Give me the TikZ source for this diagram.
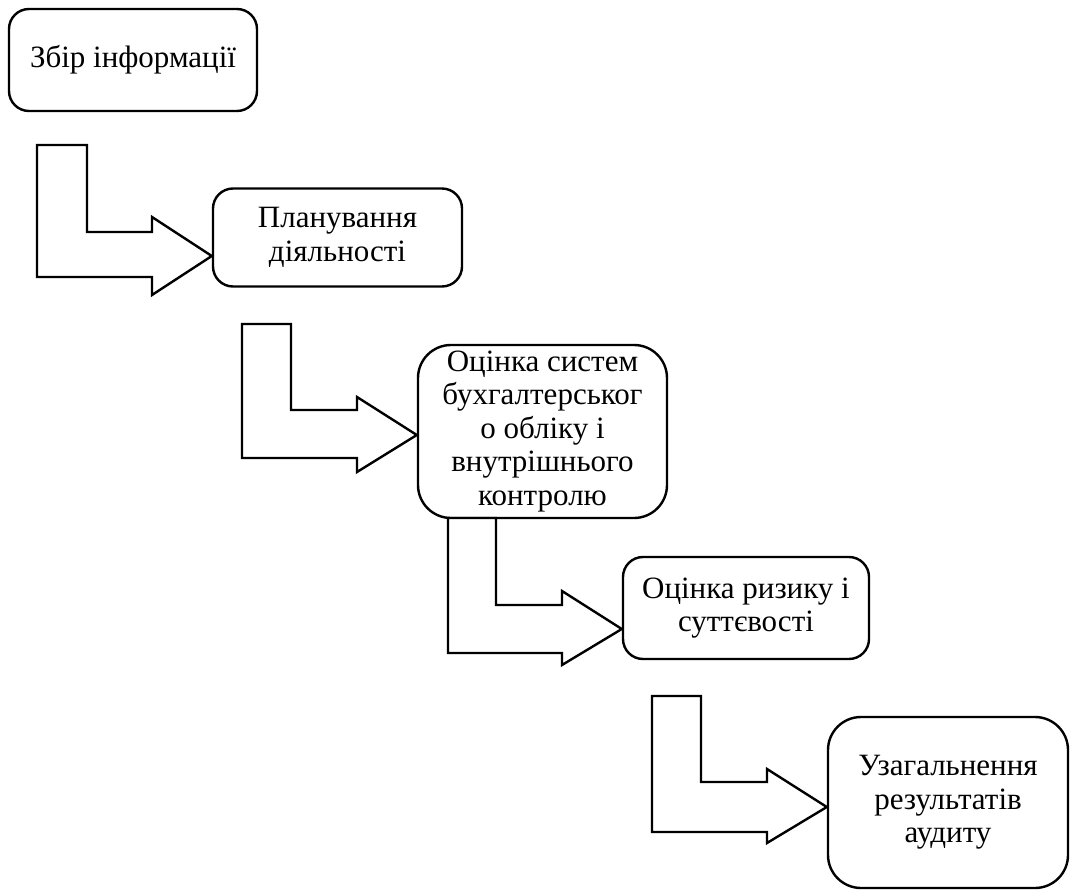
\documentclass[tikz,border=0pt]{standalone}
\usepackage{fontspec}
\setmainfont{Liberation Serif}
\begin{document}
\begin{tikzpicture}[x=1pt,y=-1pt,
  box/.style={draw=black, line width=2.4pt, fill=white, align=center, inner sep=0pt,
    font=\fontsize{31}{33.5}\selectfont},
  bentarrow/.style={draw=black, line width=2.4pt, fill=white, line join=miter}]
\useasboundingbox (0,0) rectangle (1070,890);
% boxes
\node[box, minimum width=248pt, minimum height=102pt, rounded corners=20pt] (b1) at (133,60) {Збір інформації};
\node[box, minimum width=249pt, minimum height=98pt, rounded corners=20pt] (b2) at (337.5,237.5) {Планування\\діяльності};
\node[box, minimum width=249pt, minimum height=173pt, rounded corners=33pt] (b3) at (542.5,431.5) {Оцінка систем\\бухгалтерськог\\о обліку і\\внутрішнього\\контролю};
\node[box, minimum width=246pt, minimum height=102pt, rounded corners=20pt] (b4) at (746,608) {Оцінка ризику і\\суттєвості};
\node[box, minimum width=240pt, minimum height=171pt, rounded corners=33pt] (b5) at (948,802.5) {Узагальнення\\результатів\\аудиту};
% bent arrows
\draw[bentarrow] (37,145) -- (87,145) -- (87,232) -- (152,232) -- (152,217) -- (b2.west |- 0,256) -- (152,295) -- (152,277) -- (37,277) -- cycle;
\draw[bentarrow] (242,324) -- (291,324) -- (291,410) -- (357,410) -- (357,397) -- (b3.west |- 0,435) -- (357,472) -- (357,458) -- (242,458) -- cycle;
\draw[bentarrow] (448,518) -- (496,518) -- (496,605) -- (562,605) -- (562,591) -- (b4.west |- 0,629) -- (562,665) -- (562,653) -- (448,653) -- cycle;
\draw[bentarrow] (652,696) -- (701,696) -- (701,782) -- (767,782) -- (767,769) -- (b5.west |- 0,807) -- (767,843) -- (767,832) -- (652,832) -- cycle;
\end{tikzpicture}
\end{document}
